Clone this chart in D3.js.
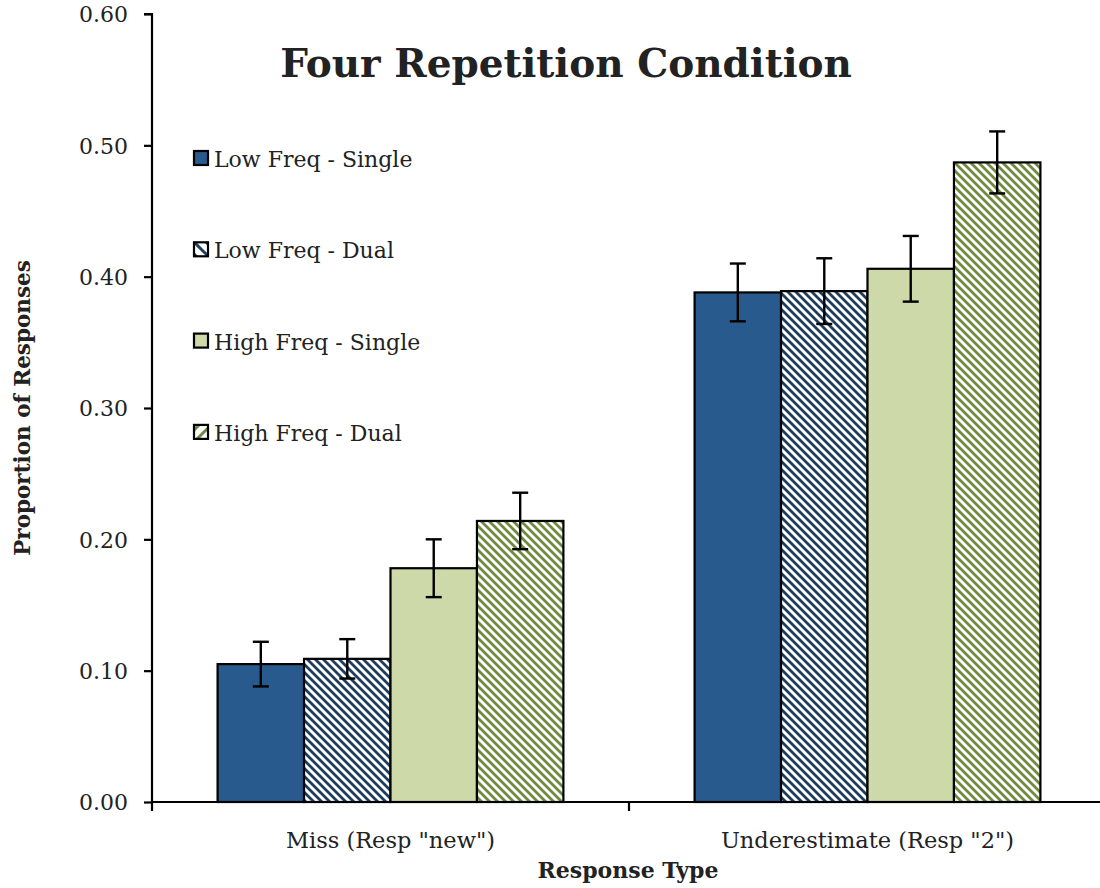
<!DOCTYPE html>
<html>
<head>
<meta charset="utf-8">
<script src="https://cdn.jsdelivr.net/npm/d3@7"></script>
<style>
  html, body { margin: 0; padding: 0; background: #fff; }
  svg { display: block; }
  text { font-family: "DejaVu Serif", "Liberation Serif", serif; fill: #222; }
</style>
</head>
<body>
<svg id="chart" width="1100" height="888"></svg>
<script>
const categories = ['Miss (Resp "new")', 'Underestimate (Resp "2")'];
const seriesNames = ["Low Freq - Single", "Low Freq - Dual", "High Freq - Single", "High Freq - Dual"];
const lowSingle  = [0.105, 0.388];
const lowDual    = [0.109, 0.389];
const highSingle = [0.178, 0.406];
const highDual   = [0.214, 0.487];
const errLowSingle  = [0.017, 0.022];
const errLowDual    = [0.015, 0.025];
const errHighSingle = [0.022, 0.025];
const errHighDual   = [0.0215, 0.0236];
const yTicks = [0, 0.1, 0.2, 0.3, 0.4, 0.5, 0.6];

const seriesValues = [lowSingle, lowDual, highSingle, highDual];
const seriesErrs = [errLowSingle, errLowDual, errHighSingle, errHighDual];
const fills = ["#285a8e", "url(#hatchNavy)", "#cdd9a9", "url(#hatchGreen)"];
const legendFills = ["#285a8e", "url(#legNavy)", "#cdd9a9", "url(#legGreen)"];

const svg = d3.select("#chart");
const x0 = 152, x1 = 1106, yTop = 14, yBot = 802;

const defs = svg.append("defs");
function hatch(id, color, dir, size, sw) {
  const p = defs.append("pattern").attr("id", id).attr("patternUnits", "userSpaceOnUse")
    .attr("width", size).attr("height", size);
  p.append("rect").attr("width", size).attr("height", size).attr("fill", "#fff");
  const s = size;
  const d = dir === "\\"
    ? `M0,0 L${s},${s} M${-s/2},${s/2} L${s/2},${s*1.5} M${s/2},${-s/2} L${s*1.5},${s/2}`
    : `M0,${s} L${s},0 M${-s/2},${s/2} L${s/2},${-s/2} M${s/2},${s*1.5} L${s*1.5},${s/2}`;
  p.append("path").attr("d", d).attr("stroke", color).attr("stroke-width", sw);
}
hatch("hatchNavy", "#1f3d5e", "\\", 8, 2.8);
hatch("hatchGreen", "#6f8a3e", "\\", 8, 2.8);
hatch("legNavy", "#1f3d5e", "\\", 12, 3);
hatch("legGreen", "#6f8a3e", "/", 12, 3);

const x = d3.scaleBand().domain(categories).range([x0, x1]).paddingInner(0.275).paddingOuter(0.1375);
const xs = d3.scaleBand().domain(seriesNames).range([0, x.bandwidth()]);
const y = d3.scaleLinear().domain([0, 0.6]).range([yBot, yTop]);

// bars
seriesNames.forEach((s, si) => {
  const g = svg.append("g");
  g.selectAll("rect").data(categories).join("rect")
    .attr("x", c => x(c) + xs(s))
    .attr("y", (c, i) => y(seriesValues[si][i]))
    .attr("width", xs.bandwidth())
    .attr("height", (c, i) => yBot - y(seriesValues[si][i]))
    .attr("fill", fills[si])
    .attr("stroke", "#000").attr("stroke-width", 2.2);
});

// error bars
seriesNames.forEach((s, si) => {
  const g = svg.append("g").attr("stroke", "#000").attr("stroke-width", 2.4);
  categories.forEach((c, i) => {
    const cx = x(c) + xs(s) + xs.bandwidth() / 2;
    const v = seriesValues[si][i], e = seriesErrs[si][i];
    g.append("line").attr("x1", cx).attr("x2", cx).attr("y1", y(v + e)).attr("y2", y(v - e));
    g.append("line").attr("x1", cx - 8).attr("x2", cx + 8).attr("y1", y(v + e)).attr("y2", y(v + e));
    g.append("line").attr("x1", cx - 8).attr("x2", cx + 8).attr("y1", y(v - e)).attr("y2", y(v - e));
  });
});

// y axis
const yAxis = d3.axisLeft(y).tickValues(yTicks).tickFormat(d3.format(".2f")).tickSize(8).tickPadding(16);
const gy = svg.append("g").attr("transform", `translate(${x0},0)`).call(yAxis);
gy.select(".domain").attr("stroke", "#000").attr("stroke-width", 2.2).attr("d", `M-8,${yTop}H0V${yBot}`);
gy.selectAll(".tick line").attr("stroke", "#000").attr("stroke-width", 2.2);
gy.selectAll(".tick text").style("font-family", '"DejaVu Serif", serif').style("font-size", "22px").attr("fill", "#222").attr("dy", "0.35em");

// x axis
const gx = svg.append("g").attr("transform", `translate(0,${yBot})`);
gx.append("line").attr("x1", x0).attr("x2", x1).attr("y1", 0).attr("y2", 0).attr("stroke", "#000").attr("stroke-width", 2.2);
const bounds = [x0, x(categories[1]) - x.step() * x.paddingInner() / 2, x1];
gx.selectAll(".xt").data(bounds).join("line").attr("class", "xt")
  .attr("x1", d => d).attr("x2", d => d).attr("y1", 0).attr("y2", 9)
  .attr("stroke", "#000").attr("stroke-width", 2.2);
gx.selectAll(".xl").data(categories).join("text").attr("class", "xl")
  .attr("x", c => x(c) + x.bandwidth() / 2).attr("y", 46)
  .attr("text-anchor", "middle").style("font-size", "22.5px").text(c => c);

// axis titles
svg.append("text").attr("x", 628).attr("y", 878).attr("text-anchor", "middle")
  .style("font-size", "22px").style("font-weight", "bold").text("Response Type");
svg.append("text").attr("transform", "translate(30,408) rotate(-90)").attr("text-anchor", "middle")
  .style("font-size", "21.5px").style("font-weight", "bold").text("Proportion of Responses");

// title
svg.append("text").attr("x", 566).attr("y", 77).attr("text-anchor", "middle")
  .style("font-size", "39px").style("font-weight", "bold").attr("fill", "#000").text("Four Repetition Condition");

// legend
const lg = svg.append("g");
seriesNames.forEach((s, i) => {
  const cy = 158 + i * 91.3;
  lg.append("rect").attr("x", 194).attr("y", cy - 7).attr("width", 14).attr("height", 14)
    .attr("fill", legendFills[i]).attr("stroke", "#000").attr("stroke-width", 2.2);
  lg.append("text").attr("x", 214).attr("y", cy + 9).style("font-size", "22px").text(s);
});
</script>
</body>
</html>
